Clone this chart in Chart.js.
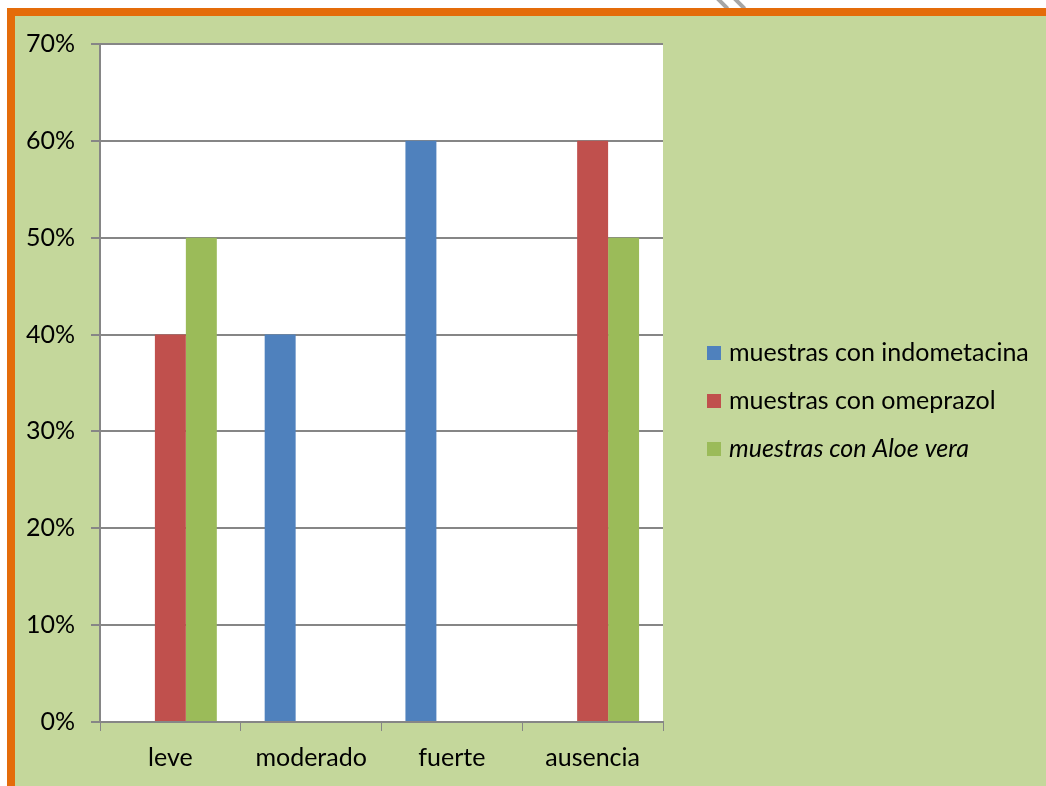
<!DOCTYPE html>
<html>
<head>
<meta charset="utf-8">
<script src="https://cdn.jsdelivr.net/npm/chart.js@4.4.1/dist/chart.umd.min.js"></script>
<style>
  html, body { margin: 0; padding: 0; background: #fff; overflow: hidden; }
  #frame {
    position: absolute; left: 7px; top: 8px; width: 1039px; height: 778px;
    border-left: 8px solid #E46C0A; border-top: 8px solid #E46C0A;
    background: #C4D79B;
  }
  #box { position: absolute; left: 0; top: -3px; width: 1031px; height: 773px; }
  .stripe { position: absolute; top: -5px; width: 4px; height: 16px; background: #A6A6A6; transform: rotate(-45deg); }
</style>
</head>
<body>
<div class="stripe" style="left:720px"></div>
<div class="stripe" style="left:737px"></div>
<div id="frame"><div id="box"><canvas id="grafico"></canvas></div></div>
<script>
var categorias = ['leve', 'moderado', 'fuerte', 'ausencia'];
var indometacina = [0, 40, 60, 0];
var omeprazol = [40, 0, 0, 60];
var aloeVera = [50, 0, 0, 50];
var series = ['muestras con indometacina', 'muestras con omeprazol', 'muestras con Aloe vera'];
var colores = ['#4F81BD', '#C0504D', '#9BBB59'];

var fuente = 'Lato, "Noto Sans", sans-serif';
var tam = 25;

// fondo blanco del área de trazado
var fondo = {
    id: 'fondo',
    beforeDraw: function (chart) {
        var a = chart.chartArea;
        chart.ctx.save();
        chart.ctx.fillStyle = '#fff';
        chart.ctx.fillRect(a.left, a.top, a.right - a.left, a.bottom - a.top);
        chart.ctx.restore();
    }
};

// leyenda propia: la tercera serie va en cursiva
var leyenda = {
    id: 'leyenda',
    afterDraw: function (chart) {
        var ctx = chart.ctx;
        var x = chart.chartArea.right + 44;
        var cy = 388;
        ctx.save();
        ctx.textBaseline = 'middle';
        series.forEach(function (nombre, i) {
            var y = cy + (i - 1) * 48;
            ctx.fillStyle = colores[i];
            ctx.fillRect(x, y - 7, 14, 14);
            ctx.fillStyle = '#000';
            ctx.font = (i == 2 ? 'italic ' : '') + tam + 'px ' + fuente;
            ctx.fillText(nombre, x + 22, y);
        });
        ctx.restore();
    }
};

new Chart(document.getElementById('grafico'), {
    type: 'bar',
    data: {
        labels: categorias,
        datasets: [
            { label: series[0], data: indometacina, backgroundColor: colores[0] },
            { label: series[1], data: omeprazol, backgroundColor: colores[1] },
            { label: series[2], data: aloeVera, backgroundColor: colores[2] }
        ]
    },
    options: {
        responsive: true,
        maintainAspectRatio: false,
        animation: false,
        categoryPercentage: 0.66,
        barPercentage: 1,
        layout: { padding: { top: 24, right: 383, left: 0, bottom: 0 } },
        plugins: { legend: { display: false }, tooltip: { enabled: false } },
        scales: {
            x: {
                grid: { drawOnChartArea: false, drawTicks: true, tickLength: 9, color: '#868686' },
                border: { color: '#868686', width: 2 },
                ticks: { color: '#000', padding: 12, font: { family: fuente, size: tam } },
                afterFit: function (s) { s.height = 64; }
            },
            y: {
                min: 0, max: 70,
                ticks: {
                    stepSize: 10, color: '#000', padding: 16,
                    font: { family: fuente, size: tam },
                    callback: function (v) { return v + '%'; }
                },
                grid: { color: '#868686', lineWidth: 2, tickLength: 9 },
                border: { color: '#868686', width: 2 },
                afterFit: function (s) { s.width = 85; }
            }
        }
    },
    plugins: [fondo, leyenda]
});
</script>
</body>
</html>
